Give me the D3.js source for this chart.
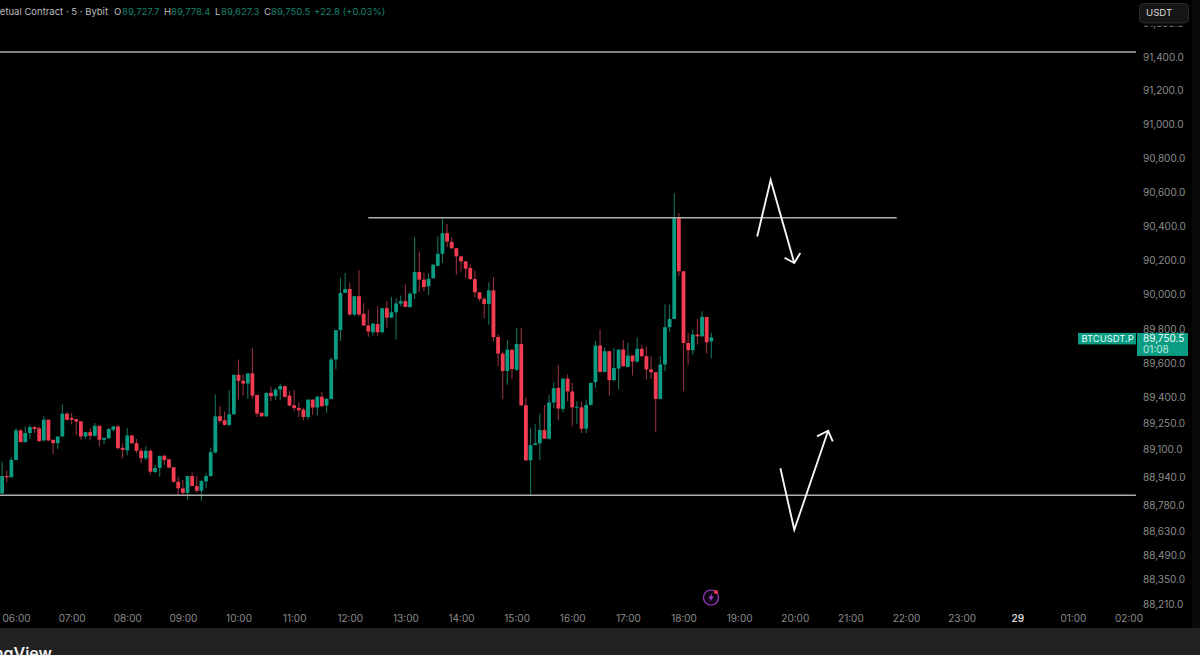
<!DOCTYPE html>
<html>
<head>
<meta charset="utf-8">
<script src="https://cdn.jsdelivr.net/npm/d3@7"></script>
<style>
    html, body { margin: 0; padding: 0; background: #000; overflow: hidden; }
    text { font-family: Inter, "Liberation Sans", sans-serif; }
</style>
</head>
<body>
<div id="chart"></div>
<script>
// 5 minute bars, first bar is 05:45, last bar is 18:30
const opens = [
    88845,88946,88939,89039,89210,89142,89195,89229,89222,89152,
    89272,89156,89136,89175,89307,89282,89276,89263,89175,89200,
    89179,89237,89156,89165,89214,89233,89109,89094,89181,89136,
    89092,89049,89092,88970,88993,89063,89043,88997,88913,88875,
    88849,88946,88888,88861,88915,88946,89082,89292,89269,89242,
    89304,89533,89498,89482,89541,89416,89312,89292,89428,89409,
    89447,89467,89412,89356,89341,89331,89288,89389,89343,89405,
    89354,89393,89622,89793,90010,90033,89884,89991,89888,89820,
    89781,89828,89781,89921,89866,89897,89948,89962,89928,90006,
    90132,90088,90049,90097,90169,90239,90360,90309,90272,90224,
    90195,90156,90091,90014,89975,89946,90025,89753,89656,89555,
    89679,89562,89712,89356,89037,89125,89135,89212,89162,89372,
    89457,89335,89511,89436,89342,89344,89220,89358,89490,89703,
    89550,89670,89502,89569,89680,89579,89645,89610,89684,89641,
    89564,89548,89393,89593,89810,89858,90453,90137,89718,89676,
    89767,89757,89870,89727.7
]
const closes = [
    88946,88939,89039,89210,89142,89195,89229,89218,89148,89272,
    89152,89136,89175,89307,89272,89272,89261,89175,89200,89179,
    89237,89156,89167,89218,89233,89107,89098,89181,89136,89092,
    89049,89092,88971,88993,89063,89039,88995,88913,88875,88849,
    88946,88888,88861,88917,88946,89084,89292,89265,89242,89304,
    89533,89498,89482,89541,89412,89308,89292,89428,89409,89447,
    89467,89405,89354,89339,89327,89288,89389,89343,89405,89350,
    89393,89622,89793,90010,90033,89884,89991,89884,89820,89785,
    89832,89781,89921,89866,89897,89948,89962,89928,90006,90133,
    90088,90045,90093,90175,90239,90360,90311,90272,90224,90195,
    90152,90091,90014,89975,89946,90025,89753,89656,89555,89679,
    89566,89712,89356,89037,89125,89135,89212,89162,89372,89455,
    89337,89511,89436,89344,89348,89220,89358,89486,89703,89550,
    89670,89502,89573,89680,89583,89645,89610,89684,89641,89564,
    89548,89393,89593,89810,89858,90453,90137,89718,89676,89767,
    89757,89870,89722,89750.5
]
const highs = [
    89030,88977,89055,89224,89218,89233,89243,89237,89233,89292,
    89272,89156,89175,89360,89315,89311,89276,89263,89200,89224,
    89253,89237,89167,89224,89237,89243,89136,89222,89181,89160,
    89107,89117,89101,89010,89063,89069,89043,88997,88942,88923,
    88946,88966,88946,88923,88962,89111,89418,89350,89319,89444,
    89533,89622,89533,89541,89690,89416,89312,89428,89463,89457,
    89482,89471,89438,89444,89374,89341,89389,89389,89412,89432,
    89397,89632,89793,90098,90127,90072,89991,90143,89952,89913,
    89832,89932,89921,89962,89987,89979,89995,90059,90014,90336,
    90253,90128,90126,90181,90340,90447,90414,90336,90272,90224,
    90195,90175,90142,90014,89986,90072,90103,89767,89669,89737,
    89679,89806,89806,89403,89222,89247,89306,89358,89417,89488,
    89589,89511,89535,89486,89379,89379,89389,89486,89729,89796,
    89690,89670,89690,89680,89734,89719,89645,89748,89703,89696,
    89641,89548,89641,89942,89942,90595,90478,90137,89777,89796,
    89858,89903,89870,89778.4
]
const lows = [
    88845,88907,88939,89039,89142,89142,89160,89195,89144,89148,
    89148,89074,89101,89171,89268,89245,89185,89156,89160,89152,
    89175,89117,89132,89160,89204,89101,89049,89067,89132,89078,
    89020,89039,88956,88962,88942,89010,88991,88907,88838,88836,
    88810,88888,88849,88803,88875,88942,89078,89253,89238,89234,
    89300,89389,89412,89393,89393,89288,89288,89288,89380,89385,
    89385,89399,89350,89321,89288,89269,89273,89300,89296,89347,
    89312,89389,89564,89729,90010,89874,89874,89874,89820,89754,
    89762,89762,89773,89808,89863,89738,89932,89928,89923,89975,
    90014,90020,90000,90093,90165,90185,90278,90266,90117,90136,
    90097,90088,89986,89961,89864,89825,89728,89582,89391,89475,
    89508,89553,89352,89033,88833,89125,89037,89162,89158,89339,
    89269,89315,89379,89234,89249,89195,89195,89354,89457,89544,
    89548,89412,89496,89447,89579,89575,89529,89602,89637,89505,
    89509,89199,89389,89554,89783,89858,90108,89437,89592,89650,
    89709,89753,89656,89627.3
]

const priceTicks = [91600,91400,91200,91000,90800,90600,90400,90200,90000,89800,89600,89400,89250,89100,88940,88780,88630,88490,88350,88210]
const hourLabels = ['06:00','07:00','08:00','09:00','10:00','11:00','12:00','13:00','14:00','15:00','16:00','17:00','18:00','19:00','20:00','21:00','22:00','23:00','29','01:00','02:00']
const hourBars = hourLabels.map((d, i) => 3 + i * 12)

// hand drawn levels: [from bar, to bar, price]
const levels = [
    [-5, 244.6, 91430],
    [79, 193, 90451],
    [-5, 244.6, 88835]
]
// hand drawn arrows: bar, price
const arrowDownBars = [162.9, 165.8, 170.9]
const arrowDownPrices = [90341, 90673, 90185]
const arrowDownHeadBars = [168.8, 170.9, 172.2]
const arrowDownHeadPrices = [90216, 90185, 90244]
const arrowUpBars = [167.9, 170.9, 178.2]
const arrowUpPrices = [88991, 88636, 89208]
const arrowUpHeadBars = [175.8, 178.2, 179.2]
const arrowUpHeadPrices = [89175, 89208, 89146]

const headerParts = [
    ['BTCUSDT Perpetual Contract · 5 · Bybit', 'title'],
    ['O', 'key'], ['89,727.7', 'val'],
    ['H', 'key'], ['89,778.4', 'val'],
    ['L', 'key'], ['89,627.3', 'val'],
    ['C', 'key'], ['89,750.5', 'val'],
    ['+22.8 (+0.03%)', 'val']
]
const headerStarts = [108, 114, 122, 164, 171, 215, 221, 264, 271, 314]

function draw() {
    const dimensions = { width: 1200, height: 655, bottomBand: 628 }
    const green = '#0b9c83', red = '#f23c52'
    const greenWick = '#14705f', redWick = '#90303e'
    const axisColor = '#8c8c8c'

    const svg = d3.select('#chart')
        .append('svg')
        .attr('width', dimensions.width)
        .attr('height', dimensions.height)
        .style('display', 'block')
        .style('background', '#000')

    const x = d3.scaleLinear().domain([3, 147]).range([16, 683.5])
    const y = d3.scaleLog().domain([88210, 91400]).range([604, 57])

    const bars = opens.map((o, i) => ({ i, o, c: closes[i], h: highs[i], l: lows[i] }))

    // right edge strip
    svg.append('rect').attr('x', 1192).attr('y', 0).attr('width', 8).attr('height', dimensions.height).attr('fill', '#0a0a0a')

    // wicks first, bodies over them
    svg.append('g').selectAll('line').data(bars).join('line')
        .attr('x1', d => x(d.i)).attr('x2', d => x(d.i))
        .attr('y1', d => y(d.h)).attr('y2', d => y(d.l))
        .attr('stroke', d => d.c >= d.o ? greenWick : redWick)
        .attr('stroke-width', 1.1)

    svg.append('g').selectAll('rect').data(bars).join('rect')
        .attr('x', d => x(d.i) - 1.9)
        .attr('width', 3.8)
        .attr('y', d => y(Math.max(d.o, d.c)))
        .attr('height', d => Math.max(1, Math.abs(y(d.o) - y(d.c))))
        .attr('fill', d => d.c >= d.o ? green : red)

    // levels
    svg.append('g').selectAll('line').data(levels).join('line')
        .attr('x1', d => Math.max(0, x(d[0]))).attr('x2', d => x(d[1]))
        .attr('y1', d => y(d[2])).attr('y2', d => y(d[2]))
        .attr('stroke', '#aeaeae')
        .attr('stroke-width', 1.4)

    // arrows
    const arrowLine = d3.line().x(d => x(d[0])).y(d => y(d[1]))
    const arrowPaths = [
        d3.zip(arrowDownBars, arrowDownPrices),
        d3.zip(arrowDownHeadBars, arrowDownHeadPrices),
        d3.zip(arrowUpBars, arrowUpPrices),
        d3.zip(arrowUpHeadBars, arrowUpHeadPrices)
    ]
    svg.append('g').selectAll('path').data(arrowPaths).join('path')
        .attr('d', arrowLine)
        .attr('fill', 'none')
        .attr('stroke', '#f4f4f4')
        .attr('stroke-width', 1.9)

    // price axis
    const yAxis = svg.append('g')
        .attr('transform', 'translate(1143, 0)')
        .call(d3.axisRight(y).tickValues(priceTicks).tickSize(0).tickPadding(0)
            .tickFormat(d3.format(',.1f')))
    yAxis.select('.domain').remove()
    yAxis.selectAll('text').attr('fill', axisColor).style('font-size', '10px').style('font-family', 'Inter')

    // bottom band and time axis
    svg.append('rect').attr('x', 0).attr('y', dimensions.bottomBand)
        .attr('width', dimensions.width).attr('height', dimensions.height - dimensions.bottomBand)
        .attr('fill', '#212121')
    const xAxis = svg.append('g')
        .attr('transform', 'translate(0, 615)')
        .call(d3.axisBottom(x).tickValues(hourBars).tickSize(0).tickPadding(0)
            .tickFormat((d, i) => hourLabels[i]))
    xAxis.select('.domain').remove()
    xAxis.selectAll('text')
        .attr('fill', (d, i) => hourLabels[i] === '29' ? '#d8d8d8' : axisColor)
        .style('font-size', '10px').style('font-family', 'Inter')
        .style('font-weight', (d, i) => hourLabels[i] === '29' ? 600 : 400)

    svg.append('text').attr('x', 52).attr('y', 659).attr('text-anchor', 'end')
        .attr('fill', '#f0f0f0').style('font-size', '16px').style('font-weight', 600)
        .text('TradingView')

    // header row
    svg.append('g').selectAll('text').data(headerParts).join('text')
        .attr('x', (d, i) => headerStarts[i])
        .attr('y', 15)
        .attr('text-anchor', d => d[1] === 'title' ? 'end' : 'start')
        .attr('fill', d => d[1] === 'val' ? '#15826d' : '#bdbdbd')
        .style('font-size', '9.5px')
        .text(d => d[0])

    // USDT button sits over the 91,600 label
    svg.append('rect').attr('x', 1136).attr('y', 0).attr('width', 56).attr('height', 25.5).attr('fill', '#000')
    svg.append('rect').attr('x', 1139.5).attr('y', 3.5).attr('width', 49).attr('height', 19.5).attr('rx', 4)
        .attr('fill', '#161616').attr('stroke', '#2b2b2b')
    svg.append('text').attr('x', 1146).attr('y', 16).attr('fill', '#dcdcdc')
        .style('font-size', '9.6px').text('USDT')

    // last price tag
    const lastClose = closes[closes.length - 1]
    const tagY = y(lastClose) - 4.5
    const tagColor = '#0b9c83'
    const tag = svg.append('g')
    tag.append('rect').attr('x', 1078).attr('y', tagY).attr('width', 58).attr('height', 11.5).attr('fill', tagColor)
    tag.append('rect').attr('x', 1137).attr('y', tagY).attr('width', 51).attr('height', 23).attr('fill', tagColor)
    tag.append('text').attr('x', 1081.5).attr('y', tagY + 9.4).attr('fill', '#eafff9')
        .style('font-size', '9.4px').text('BTCUSDT.P')
    tag.append('text').attr('x', 1143).attr('y', tagY + 9.4).attr('fill', '#f2fffb')
        .style('font-size', '10px').text(d3.format(',.1f')(lastClose))
    tag.append('text').attr('x', 1143).attr('y', tagY + 20.4).attr('fill', '#bfe9de')
        .style('font-size', '10px').text('01:08')

    // alert icon
    const icon = svg.append('g').attr('transform', 'translate(711, 597.5)')
    icon.append('circle').attr('r', 7.5).attr('fill', '#0c0410').attr('stroke', '#a23ccc').attr('stroke-width', 1.2)
    icon.append('path').attr('d', 'M1.5,-4.5 L-3,1 L-0.4,1 L-1.5,4.5 L3,-1 L0.4,-1 Z').attr('fill', '#a23ccc')
    icon.append('circle').attr('cx', 5).attr('cy', -5.5).attr('r', 2).attr('fill', '#f0364a')
}

draw()
</script>
</body>
</html>
